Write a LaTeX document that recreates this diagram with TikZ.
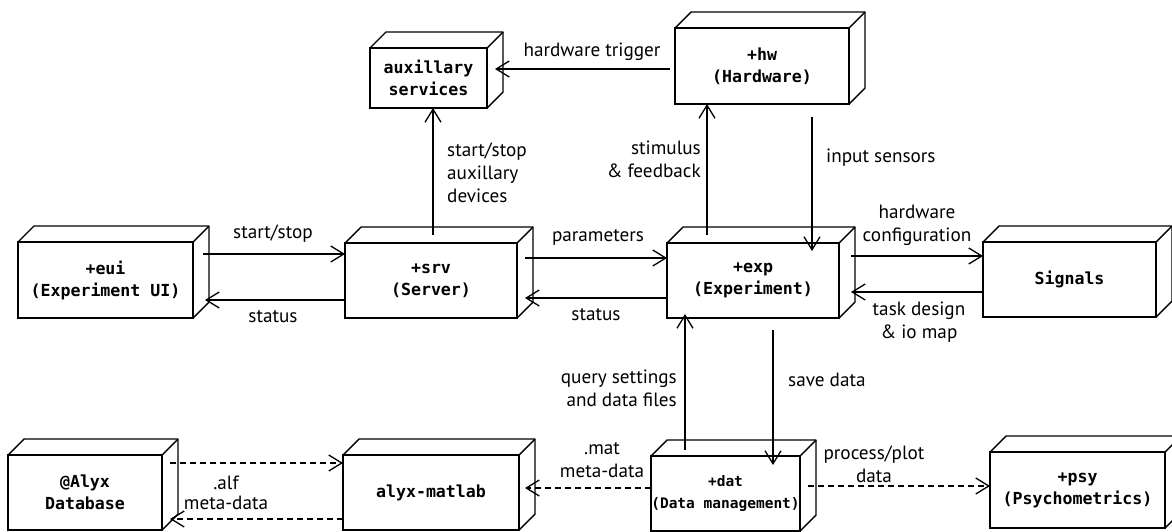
\documentclass[tikz,border=0pt]{standalone}
\usepackage{fontspec}
\setmainfont{PT Sans}
\newfontfamily\boxfont{DejaVu Sans Mono}
\usetikzlibrary{arrows.meta}
\begin{document}
\begin{tikzpicture}[x=1pt,y=-1pt,
  cube/.style={draw, line width=1.4pt, inner sep=0pt, outer sep=0pt, align=center,
    font=\boxfont\bfseries\fontsize{16.6}{22}\selectfont},
  face/.style={line width=1.4pt, line join=round},
  arr/.style={line width=1.3pt, -{Straight Barb[length=13pt,width=16pt]}},
  dep/.style={arr, dash pattern=on 6pt off 4pt},
  lbl/.style={font=\fontsize{19.2}{23}\selectfont, align=center, inner sep=0pt}]
\useasboundingbox (0,0) rectangle (1172,531);

% boxes (front faces)
\node[cube, minimum width=175, minimum height=76] (eui) at (105.5,280) {+eui\\(Experiment UI)};
\node[cube, minimum width=172, minimum height=75] (srv) at (431,280.5) {+srv\\(Server)};
\node[cube, minimum width=172, minimum height=75] (exp) at (753,280.5) {+exp\\(Experiment)};
\node[cube, minimum width=173, minimum height=75] (sig) at (1069.5,279.5) {Signals};
\node[cube, minimum width=117, minimum height=60] (aux) at (428.5,78) {auxillary\\services};
\node[cube, minimum width=174, minimum height=76] (hw) at (762,66) {+hw\\(Hardware)};
\node[cube, minimum width=154, minimum height=75] (alyx) at (85,492.5) {@Alyx\\Database};
\node[cube, minimum width=176, minimum height=75] (mat) at (431,492.5) {alyx-matlab};
\node[cube, minimum width=149, minimum height=75, font=\boxfont\bfseries\fontsize{14.5}{22}\selectfont] (dat) at (725.5,493.5) {+dat\\(Data management)};
\node[cube, minimum width=175, minimum height=76] (psy) at (1077.5,490) {+psy\\(Psychometrics)};

% 3D faces
\foreach \n in {eui,srv,exp,sig,aux,hw,alyx,mat,dat,psy}{
  \draw[face] (\n.north west) -- ++(16,-16) -- ([shift={(16,-16)}]\n.north east)
     -- ([shift={(16,-16)}]\n.south east) -- (\n.south east);
  \draw[face] (\n.north east) -- ++(16,-16);
}

% connectors
\draw[arr] ([shift={(10,-26)}]eui.east) coordinate (a1) -- (srv.west |- a1);
\draw[arr] ([shift={(0,19.5)}]srv.west) coordinate (a2) -- ([xshift=12]eui.east |- a2);
\draw[arr] ([shift={(8,-22.5)}]srv.east) coordinate (a3) -- (exp.west |- a3);
\draw[arr] ([shift={(0,17.5)}]exp.west) coordinate (a4) -- ([xshift=8]srv.east |- a4);
\draw[arr] ([shift={(12,-24.5)}]exp.east) coordinate (a5) -- (sig.west |- a5);
\draw[arr] ([shift={(0,12.5)}]sig.west) coordinate (a6) -- ([xshift=12]exp.east |- a6);
\draw[arr] ([shift={(2,-8)}]srv.north) coordinate (a7) -- (aux.south -| a7);
\draw[arr] ([shift={(-46,-8)}]exp.north) coordinate (a8) -- (hw.south -| a8);
\draw[arr] ([shift={(50,13)}]hw.south) coordinate (a9) -- ([yshift=-8]exp.north -| a9);
\draw[arr] ([shift={(-5,3)}]hw.west) coordinate (a10) -- ([xshift=8]aux.east |- a10);
\draw[arr] ([shift={(-40.5,-6)}]dat.north) coordinate (a11) -- ([yshift=4]exp.south -| a11);
\draw[arr] ([shift={(20,12)}]exp.south) coordinate (a12) -- ([yshift=-9]dat.north -| a12);
\draw[dep] ([shift={(0,-5.5)}]dat.west) coordinate (a13) -- ([xshift=6]mat.east |- a13);
\draw[dep] ([shift={(8,-7.5)}]dat.east) coordinate (a14) -- (psy.west |- a14);
\draw[dep] ([shift={(8,-29.5)}]alyx.east) coordinate (a15) -- (mat.west |- a15);
\draw[dep] ([shift={(0,26.5)}]mat.west) coordinate (a16) -- ([xshift=8]alyx.east |- a16);

% labels
\node[lbl] (l1) at (273,234) {start/stop};
\node[lbl] (l2) at (273,317) {status};
\node[lbl] (l3) at (598,237) {parameters};
\node[lbl] (l4) at (596,315) {status};
\node[lbl] (l5) at (917,225) {hardware\\configuration};
\node[lbl] (l6) at (919,322) {task design\\\& io map};
\node[lbl, align=left, anchor=west] (l7) at (447,173) {start/stop\\auxillary\\devices};
\node[lbl, align=right, anchor=east] (l8) at (701,159) {stimulus\\\& feedback};
\node[lbl, anchor=west] (l9) at (826,158) {input sensors};
\node[lbl] (l10) at (592,52) {hardware trigger};
\node[lbl, align=right, anchor=east] (l11) at (677,388) {query settings\\and data files};
\node[lbl, anchor=west] (l12) at (788,380) {save data};
\node[lbl] (l13) at (602,460) {.mat\\meta-data};
\node[lbl] (l14) at (874,464) {process/plot\\data};
\node[lbl, font=\fontsize{19.2}{20}\selectfont] (l15) at (226,493) {.alf\\meta-data};
\end{tikzpicture}
\end{document}
